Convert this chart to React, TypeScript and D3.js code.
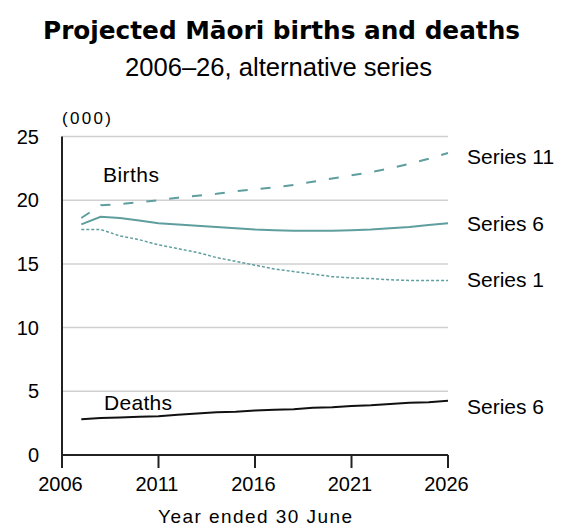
import React from "react";
import * as d3 from "d3";

const years = [2007,2008,2009,2010,2011,2012,2013,2014,2015,2016,2017,2018,2019,2020,2021,2022,2023,2024,2025,2026];
const birthsS11 = [18.6,19.6,19.7,19.85,20.0,20.2,20.35,20.5,20.7,20.85,21.0,21.2,21.45,21.7,21.95,22.2,22.5,22.85,23.25,23.7];
const birthsS6 = [18.1,18.7,18.6,18.4,18.2,18.1,18.0,17.9,17.8,17.7,17.65,17.6,17.6,17.6,17.65,17.7,17.8,17.9,18.05,18.2];
const birthsS1 = [17.7,17.7,17.2,16.9,16.5,16.2,15.9,15.5,15.2,14.9,14.6,14.4,14.2,14.0,13.9,13.85,13.75,13.7,13.7,13.7];
const deathsS6 = [2.8,2.9,2.95,3.0,3.05,3.15,3.25,3.35,3.4,3.5,3.55,3.6,3.7,3.75,3.85,3.9,4.0,4.1,4.15,4.25];
const xTicks = [2006,2011,2016,2021,2026];
const yTicks = [0,5,10,15,20,25];
const seriesLabels = ["Series 11", "Series 6", "Series 1", "Series 6"];

const TEAL = "#5f9e9e";
const FONT = "'Liberation Sans', Arial, sans-serif";

export default function App() {
  const W = 564, H = 526;
  const x = d3.scaleLinear().domain([2006, 2026]).range([62, 448]);
  const y = d3.scaleLinear().domain([0, 25]).range([455, 136.5]);
  const line = (vals: number[]) =>
    d3.line<number>().x((_, i) => x(years[i])).y((d) => y(d))(vals) || "";

  const series = [
    { vals: birthsS11, color: TEAL, dash: "10,13", w: 2, dy: 10.5 },
    { vals: birthsS6, color: TEAL, dash: null, w: 2, dy: 7.5 },
    { vals: birthsS1, color: TEAL, dash: "3,2", w: 1.5, dy: 6.5 },
    { vals: deathsS6, color: "#111", dash: null, w: 2, dy: 13 },
  ];

  return (
    <svg width={W} height={H} style={{ position: "absolute", left: 0, top: 0, background: "#fff" }}>
      <text x={281.5} y={38.5} textAnchor="middle" fontFamily="'DejaVu Sans', Verdana, sans-serif" fontWeight="bold" fontSize={24} fill="#000"
        textLength={477} lengthAdjust="spacingAndGlyphs">
        Projected Māori births and deaths
      </text>
      <text x={278.5} y={76} textAnchor="middle" fontFamily={FONT} fontSize={25.5} fill="#000" textLength={307} lengthAdjust="spacingAndGlyphs">
        2006–26, alternative series
      </text>
      {yTicks.filter((t) => t > 0).map((t) => (
        <line key={"g" + t} x1={x(2006)} x2={x(2026)} y1={y(t)} y2={y(t)} stroke="#d0d0d0" strokeWidth={1.5} />
      ))}
      {yTicks.map((t) => (
        <text key={"yl" + t} x={39} y={y(t) + 7} textAnchor="end" fontFamily={FONT} fontSize={20} fill="#000">
          {t}
        </text>
      ))}
      <text x={62} y={124} fontFamily={FONT} fontSize={17} fill="#000" textLength={49} lengthAdjust="spacing">(000)</text>
      <line x1={x(2006)} x2={x(2006)} y1={y(25)} y2={y(0) + 13} stroke="#222" strokeWidth={2} />
      <line x1={x(2006)} x2={x(2026)} y1={y(0)} y2={y(0)} stroke="#222" strokeWidth={2} />
      {xTicks.map((t) => (
        <g key={"xt" + t}>
          <line x1={x(t)} x2={x(t)} y1={y(0)} y2={y(0) + 13} stroke="#222" strokeWidth={2} />
          <text x={x(t) - 1.5} y={y(0) + 36} textAnchor="middle" fontFamily={FONT} fontSize={20} fill="#000">{t}</text>
        </g>
      ))}
      <text x={255} y={523} textAnchor="middle" fontFamily={FONT} fontSize={19} fill="#000" textLength={194} lengthAdjust="spacing">Year ended 30 June</text>
      {series.map((s, i) => (
        <path key={"s" + i} d={line(s.vals)} fill="none" stroke={s.color} strokeWidth={s.w}
          strokeDasharray={s.dash || undefined} />
      ))}
      {series.map((s, i) => (
        <text key={"l" + i} x={467} y={y(s.vals[s.vals.length - 1]) + s.dy} fontFamily={FONT} fontSize={21} fill="#000">
          {seriesLabels[i]}
        </text>
      ))}
      <text x={103} y={182} fontFamily={FONT} fontSize={21} fill="#000" textLength={56} lengthAdjust="spacing">Births</text>
      <text x={104} y={410} fontFamily={FONT} fontSize={21} fill="#000" textLength={68} lengthAdjust="spacing">Deaths</text>
    </svg>
  );
}
